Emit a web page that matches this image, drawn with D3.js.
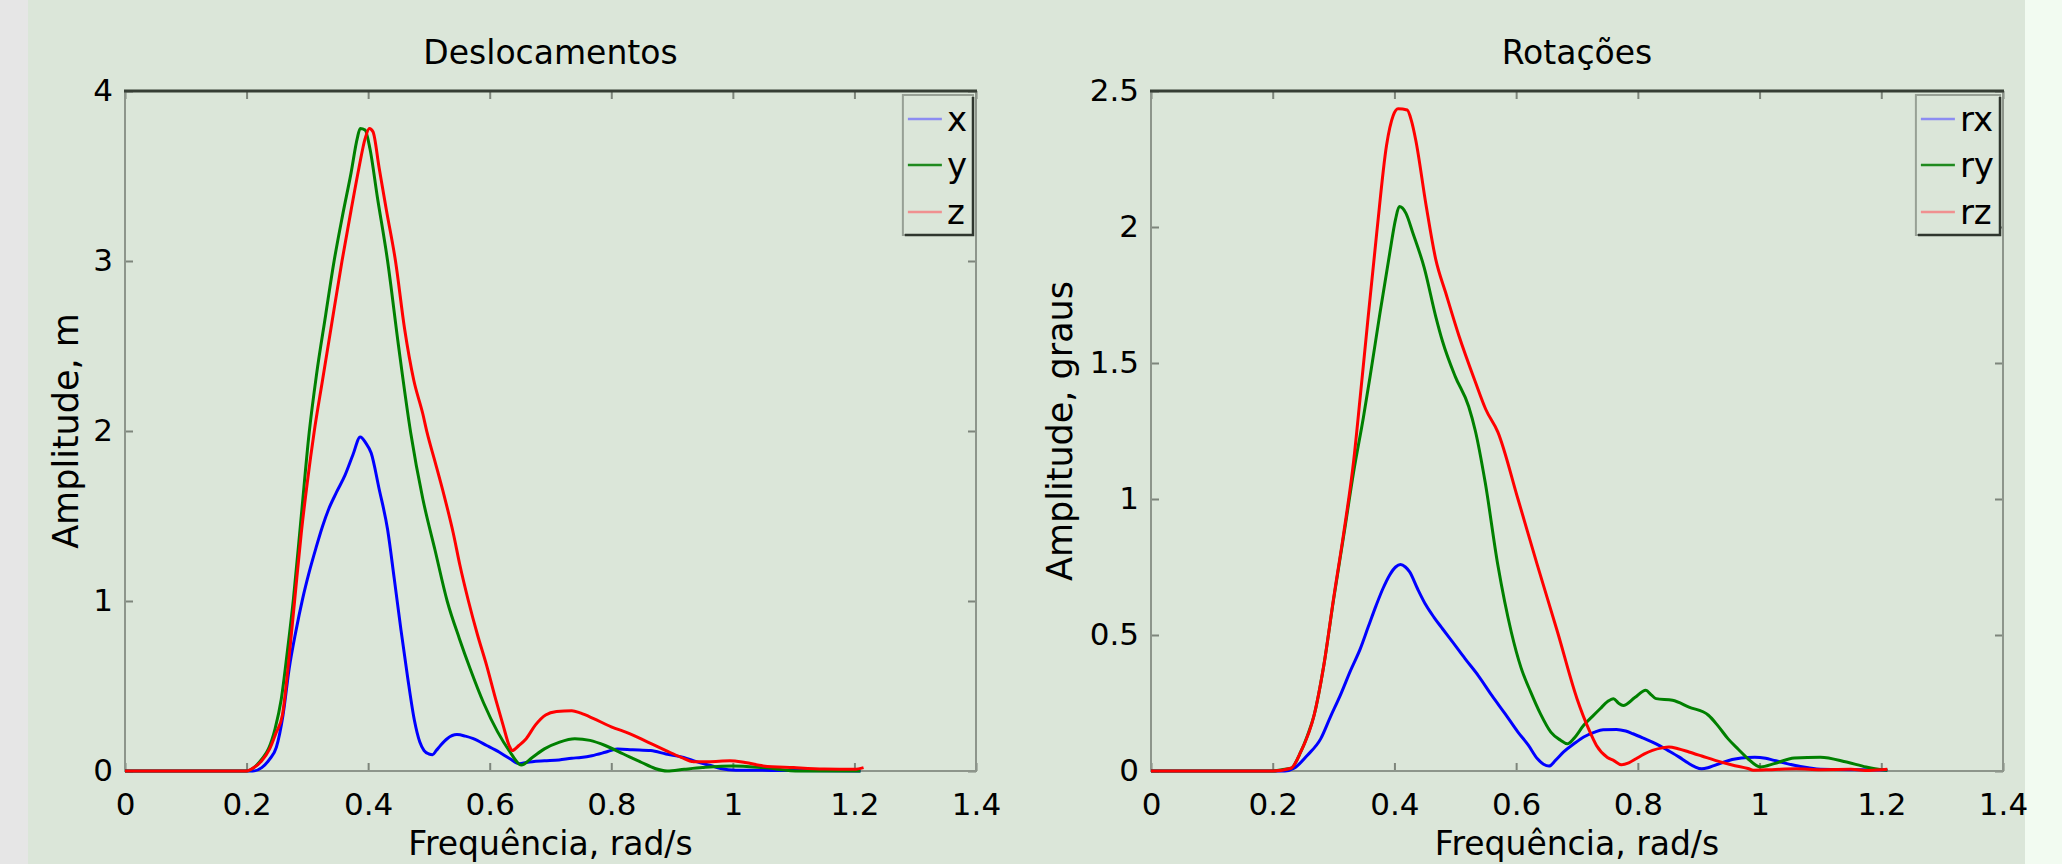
<!DOCTYPE html>
<html>
  <head>
    <meta charset="utf-8"/>
    <style>
body {
  margin: 0;
  background: #dbe6d9;
}
svg {
  display: block;
  font-family: "DejaVu Sans", sans-serif;
}
    </style>
  </head>
  <body>
    <svg id="fig" width="2062" height="864"></svg>
    <script src="https://cdnjs.cloudflare.com/ajax/libs/d3/7.8.5/d3.min.js"></script>
    <script>
// [frequency rad/s, amplitude]
const dispX = [[0,0],[0.21,0],[0.225,0.02],[0.238,0.07],[0.249,0.14],[0.26,0.33],[0.27,0.6],[0.281,0.82],[0.292,1.01],[0.303,1.17],[0.314,1.31],[0.325,1.44],[0.335,1.54],[0.348,1.64],[0.362,1.74],[0.375,1.86],[0.387,1.965],[0.396,1.93],[0.405,1.87],[0.418,1.66],[0.432,1.42],[0.443,1.13],[0.454,0.83],[0.465,0.55],[0.476,0.3],[0.485,0.17],[0.492,0.12],[0.5,0.1],[0.506,0.096],[0.512,0.12],[0.519,0.15],[0.53,0.19],[0.546,0.214],[0.56,0.205],[0.573,0.19],[0.595,0.15],[0.616,0.11],[0.632,0.075],[0.649,0.043],[0.66,0.05],[0.67,0.055],[0.69,0.06],[0.714,0.065],[0.735,0.075],[0.75,0.08],[0.768,0.09],[0.79,0.11],[0.81,0.13],[0.835,0.125],[0.865,0.12],[0.89,0.1],[0.919,0.08],[0.94,0.055],[0.962,0.034],[0.98,0.015],[1.005,0.005],[1.1,0.003],[1.21,0]];
const dispY = [[0,0],[0.2,0],[0.212,0.02],[0.225,0.07],[0.236,0.13],[0.247,0.25],[0.257,0.42],[0.267,0.7],[0.277,1.01],[0.29,1.5],[0.303,1.99],[0.315,2.33],[0.33,2.68],[0.344,3.0],[0.358,3.27],[0.372,3.52],[0.382,3.72],[0.387,3.78],[0.395,3.77],[0.403,3.66],[0.415,3.38],[0.432,3.0],[0.45,2.5],[0.47,1.99],[0.49,1.6],[0.51,1.3],[0.53,1.0],[0.55,0.78],[0.568,0.6],[0.59,0.4],[0.613,0.23],[0.632,0.12],[0.652,0.035],[0.67,0.08],[0.69,0.13],[0.715,0.17],[0.74,0.19],[0.765,0.18],[0.79,0.15],[0.82,0.1],[0.85,0.05],[0.872,0.015],[0.892,0.0],[0.92,0.01],[0.95,0.02],[1.0,0.03],[1.05,0.02],[1.11,0.0],[1.21,0]];
const dispZ = [[0,0],[0.2,0],[0.212,0.02],[0.225,0.06],[0.238,0.13],[0.248,0.22],[0.259,0.33],[0.268,0.6],[0.279,1.0],[0.29,1.4],[0.3,1.7],[0.311,1.99],[0.325,2.3],[0.34,2.63],[0.357,3.0],[0.372,3.3],[0.385,3.55],[0.395,3.72],[0.402,3.78],[0.408,3.76],[0.418,3.55],[0.43,3.3],[0.445,3.0],[0.46,2.6],[0.475,2.3],[0.49,2.1],[0.497,1.99],[0.51,1.82],[0.525,1.62],[0.54,1.4],[0.551,1.21],[0.565,1.0],[0.58,0.8],[0.595,0.62],[0.61,0.42],[0.622,0.27],[0.632,0.15],[0.637,0.12],[0.648,0.15],[0.66,0.19],[0.675,0.27],[0.692,0.33],[0.71,0.35],[0.735,0.355],[0.75,0.34],[0.77,0.31],[0.8,0.26],[0.83,0.22],[0.86,0.17],[0.89,0.12],[0.915,0.08],[0.935,0.055],[0.96,0.055],[0.995,0.06],[1.02,0.05],[1.05,0.03],[1.1,0.02],[1.15,0.012],[1.2,0.01],[1.215,0.02]];

const rotX = [[0,0],[0.22,0],[0.235,0.01],[0.257,0.058],[0.279,0.119],[0.295,0.2],[0.311,0.278],[0.328,0.37],[0.344,0.45],[0.357,0.53],[0.37,0.609],[0.381,0.67],[0.392,0.72],[0.402,0.75],[0.41,0.759],[0.418,0.75],[0.425,0.732],[0.438,0.67],[0.452,0.609],[0.465,0.565],[0.479,0.523],[0.497,0.47],[0.516,0.413],[0.538,0.35],[0.56,0.278],[0.582,0.21],[0.603,0.143],[0.62,0.095],[0.635,0.045],[0.645,0.025],[0.654,0.018],[0.665,0.04],[0.678,0.07],[0.695,0.1],[0.711,0.125],[0.728,0.142],[0.743,0.152],[0.765,0.153],[0.78,0.147],[0.792,0.137],[0.81,0.12],[0.83,0.1],[0.85,0.075],[0.868,0.051],[0.882,0.03],[0.894,0.015],[0.905,0.008],[0.915,0.012],[0.925,0.02],[0.938,0.03],[0.955,0.042],[0.97,0.048],[0.992,0.051],[1.01,0.047],[1.024,0.039],[1.04,0.03],[1.057,0.021],[1.08,0.012],[1.1,0.006],[1.164,0.005],[1.21,0.003]];
const rotY = [[0,0],[0.2,0],[0.215,0.005],[0.23,0.01],[0.246,0.07],[0.257,0.13],[0.268,0.205],[0.284,0.389],[0.3,0.63],[0.317,0.87],[0.333,1.1],[0.349,1.3],[0.36,1.45],[0.376,1.68],[0.392,1.9],[0.402,2.03],[0.408,2.075],[0.413,2.07],[0.419,2.05],[0.43,1.98],[0.449,1.85],[0.468,1.67],[0.479,1.58],[0.5,1.45],[0.522,1.34],[0.533,1.25],[0.549,1.063],[0.57,0.756],[0.592,0.511],[0.608,0.38],[0.624,0.29],[0.64,0.21],[0.657,0.143],[0.673,0.113],[0.684,0.1],[0.695,0.12],[0.711,0.168],[0.725,0.2],[0.738,0.229],[0.75,0.255],[0.76,0.266],[0.768,0.25],[0.776,0.241],[0.795,0.27],[0.813,0.297],[0.822,0.28],[0.83,0.266],[0.857,0.26],[0.884,0.235],[0.916,0.205],[0.932,0.165],[0.948,0.119],[0.965,0.08],[0.981,0.045],[0.995,0.02],[1.002,0.015],[1.024,0.027],[1.057,0.048],[1.1,0.051],[1.143,0.033],[1.175,0.015],[1.2,0.005],[1.21,0.003]];
const rotZ = [[0,0],[0.2,0],[0.23,0.01],[0.246,0.07],[0.268,0.205],[0.284,0.389],[0.3,0.634],[0.317,0.88],[0.333,1.14],[0.344,1.38],[0.356,1.65],[0.371,1.98],[0.387,2.3],[0.398,2.41],[0.406,2.435],[0.421,2.43],[0.428,2.39],[0.435,2.32],[0.452,2.08],[0.468,1.88],[0.484,1.76],[0.506,1.6],[0.533,1.43],[0.55,1.33],[0.57,1.246],[0.603,1.0],[0.635,0.756],[0.668,0.511],[0.7,0.266],[0.72,0.15],[0.732,0.094],[0.75,0.05],[0.76,0.039],[0.773,0.023],[0.785,0.03],[0.797,0.045],[0.81,0.062],[0.824,0.076],[0.84,0.085],[0.851,0.088],[0.866,0.082],[0.884,0.07],[0.905,0.055],[0.927,0.039],[0.955,0.022],[0.981,0.009],[0.99,0.003],[1.02,0.005],[1.06,0.008],[1.1,0.005],[1.15,0.006],[1.18,0.002],[1.21,0.006]];

const xTicks = [0, 0.2, 0.4, 0.6, 0.8, 1, 1.2, 1.4];
const dispTicks = [0, 1, 2, 3, 4];
const rotTicks = [0, 0.5, 1, 1.5, 2, 2.5];
const dispNames = ["x", "y", "z"];
const rotNames = ["rx", "ry", "rz"];
const colors = ["#0000ff", "#008000", "#ff0000"];
const legendColors = ["#8c8cf2", "#1f8a1f", "#f09090"];

const svg = d3.select("#fig");
const plotTop = 91, plotBottom = 771;

svg.append("rect").attr("width", 2062).attr("height", 864).attr("fill", "#dbe6d9");
svg.append("rect").attr("width", 28).attr("height", 864).attr("fill", "#e6e6e6");
svg.append("rect").attr("x", 2025).attr("width", 37).attr("height", 864).attr("fill", "#f2fbf1");

function panel(left, right, yMax, yTicks, series, names, title, ylabel, ylabelX) {
  const x = d3.scaleLinear().domain([0, 1.4]).range([left, right]);
  const y = d3.scaleLinear().domain([0, yMax]).range([plotBottom, plotTop]);
  const g = svg.append("g");
  const fmt = d3.format("~g");

  // ticks all point inward
  g.append("g").attr("transform", `translate(0,${plotBottom})`)
    .call(d3.axisBottom(x).tickValues(xTicks).tickFormat(fmt).tickSizeInner(-8).tickSizeOuter(0).tickPadding(22));
  g.append("g").attr("transform", `translate(0,${plotTop})`)
    .call(d3.axisTop(x).tickValues(xTicks).tickFormat("").tickSizeInner(-8).tickSizeOuter(0));
  g.append("g").attr("transform", `translate(${left},0)`)
    .call(d3.axisLeft(y).tickValues(yTicks).tickFormat(fmt).tickSizeInner(-8).tickSizeOuter(0).tickPadding(12));
  g.append("g").attr("transform", `translate(${right},0)`)
    .call(d3.axisRight(y).tickValues(yTicks).tickFormat("").tickSizeInner(-8).tickSizeOuter(0));
  g.selectAll(".domain").remove();
  g.selectAll(".tick line").attr("stroke", "#7d857b").attr("stroke-width", 2);
  g.selectAll(".tick text").attr("font-size", 31).attr("fill", "#000").attr("font-family", "DejaVu Sans");

  // frame
  g.append("path")
    .attr("d", `M${left},${plotTop}V${plotBottom}H${right}V${plotTop}`)
    .attr("fill", "none").attr("stroke", "#8d958b").attr("stroke-width", 2);
  g.append("line")
    .attr("x1", left - 1).attr("x2", right + 1).attr("y1", plotTop).attr("y2", plotTop)
    .attr("stroke", "#363e35").attr("stroke-width", 3);

  const line = d3.line().x(d => x(d[0])).y(d => y(d[1])).curve(d3.curveMonotoneX);
  series.forEach((s, i) => {
    g.append("path").datum(s)
      .attr("d", line)
      .attr("fill", "none")
      .attr("stroke", colors[i])
      .attr("stroke-width", 3)
      .attr("stroke-linejoin", "round");
  });

  g.append("text")
    .attr("x", (left + right) / 2).attr("y", 64)
    .attr("text-anchor", "middle").attr("font-size", 33)
    .text(title);
  g.append("text")
    .attr("x", (left + right) / 2).attr("y", 855)
    .attr("text-anchor", "middle").attr("font-size", 33)
    .text("Frequência, rad/s");
  g.append("text")
    .attr("transform", `translate(${ylabelX},${(plotTop + plotBottom) / 2}) rotate(-90)`)
    .attr("text-anchor", "middle").attr("font-size", 35)
    .text(ylabel);

  // legend
  const lg = g.append("g");
  const labels = lg.selectAll("text").data(names).join("text")
    .attr("font-size", 34)
    .text(d => d);
  const tw = d3.max(labels.nodes(), n => n.getComputedTextLength());
  const bw = 46 + tw + 4, bx = right - 3 - bw, by = 95;
  lg.insert("rect", "text")
    .attr("x", bx).attr("y", by).attr("width", bw).attr("height", 140)
    .attr("fill", "#dbe6d9").attr("stroke", "#97a095").attr("stroke-width", 2);
  lg.insert("path", "text")
    .attr("d", `M${bx + 2},${by + 140}H${bx + bw}V${by + 2}`)
    .attr("fill", "none").attr("stroke", "#2f362e").attr("stroke-width", 2.5);
  const rowY = [119, 165, 212];
  lg.selectAll("line.key").data(names).join("line")
    .attr("class", "key")
    .attr("x1", bx + 5).attr("x2", bx + 39)
    .attr("y1", (d, i) => rowY[i]).attr("y2", (d, i) => rowY[i])
    .attr("stroke", (d, i) => legendColors[i]).attr("stroke-width", 2.5);
  labels.attr("x", bx + 44).attr("y", (d, i) => rowY[i] + 12);
}

panel(125, 976, 4, dispTicks, [dispX, dispY, dispZ], dispNames, "Deslocamentos", "Amplitude, m", 78);
panel(1151, 2003, 2.5, rotTicks, [rotX, rotY, rotZ], rotNames, "Rotações", "Amplitude, graus", 1072);
    </script>
  </body>
</html>
